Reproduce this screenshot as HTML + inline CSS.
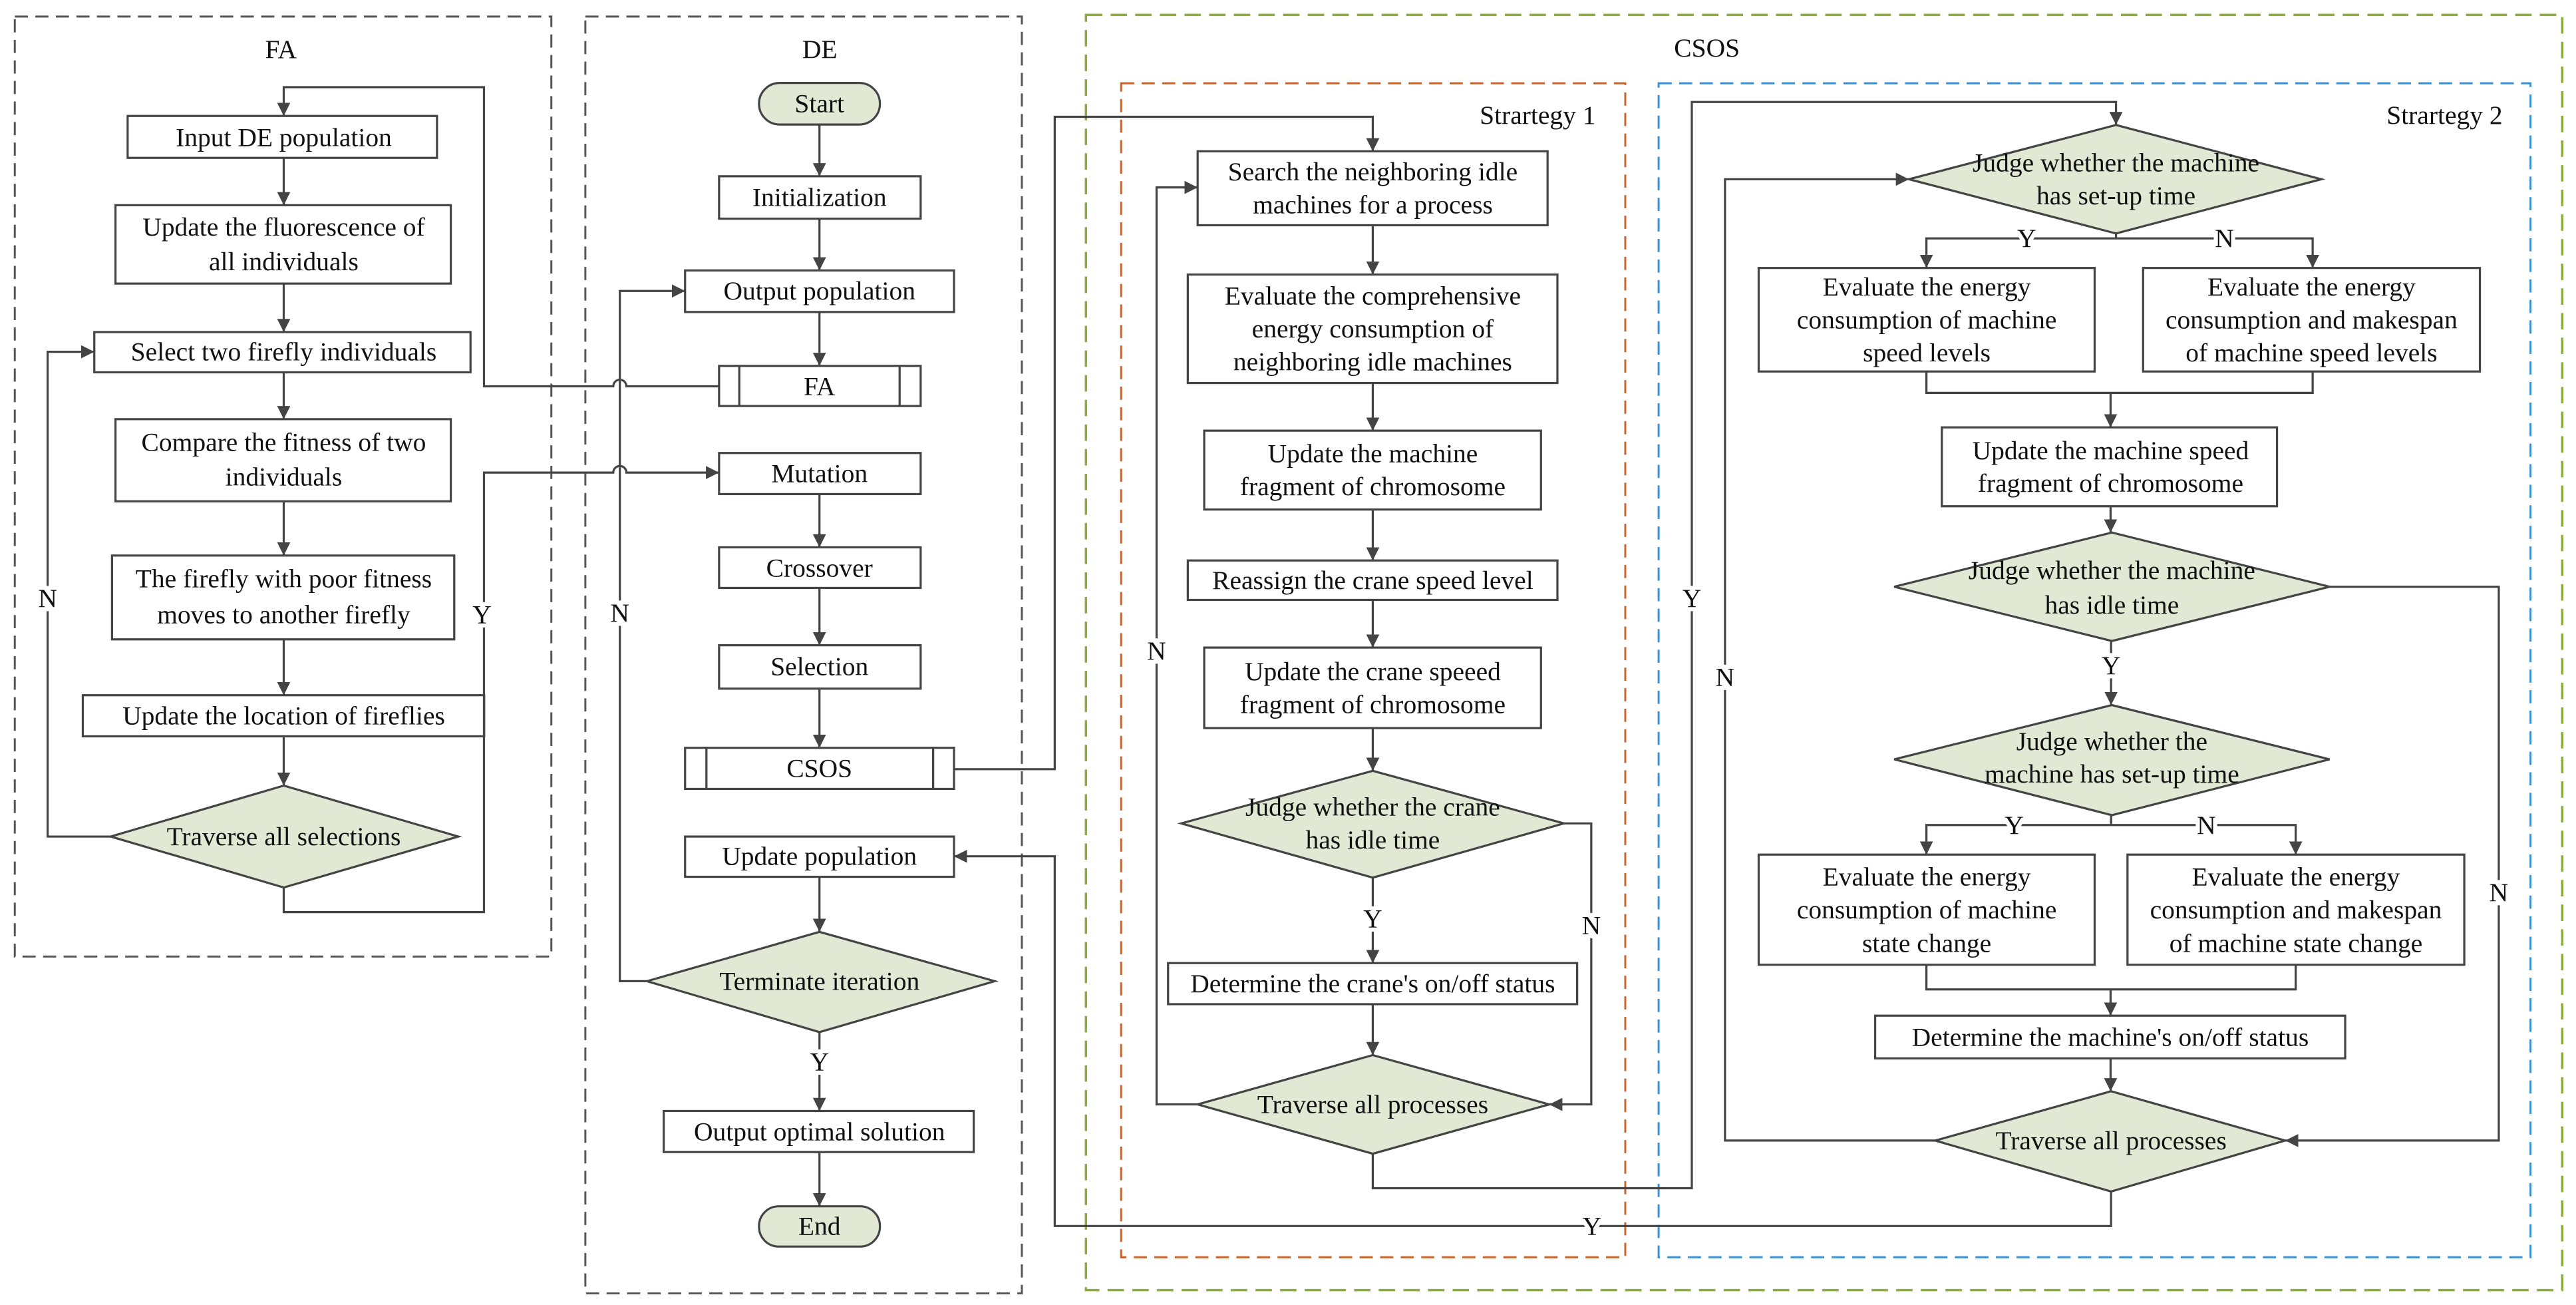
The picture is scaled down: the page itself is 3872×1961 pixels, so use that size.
<!DOCTYPE html>
<html><head><meta charset="utf-8"><style>
html,body{margin:0;padding:0;background:#fff;}
svg{display:block;}
text{font-family:"Liberation Serif",serif;font-size:16px;fill:#111;text-anchor:middle;dominant-baseline:central;}
.lb{paint-order:stroke;stroke:#fff;stroke-width:5px;}
.ln{fill:none;stroke:#444;stroke-width:1.3;}
.bx{fill:#fff;stroke:#444;stroke-width:1.3;}
.dm{fill:#e1e9d4;stroke:#444;stroke-width:1.3;}
</style></head><body>
<svg width="3872" height="1961" viewBox="0 0 1568 794" xmlns="http://www.w3.org/2000/svg">
<defs>
<marker id="a" markerUnits="userSpaceOnUse" markerWidth="10" markerHeight="10" refX="8" refY="4" orient="auto">
<path d="M0,0 L8,4 L0,8 Z" fill="#444"/></marker>
</defs>
<rect width="1568" height="794" fill="#fff"/>
<!-- dashed containers -->
<rect x="9" y="10" width="326.6" height="572" fill="none" stroke="#555" stroke-width="1.2" stroke-dasharray="8,4.5"/>
<rect x="356.3" y="10" width="265.7" height="777" fill="none" stroke="#555" stroke-width="1.2" stroke-dasharray="8,4.5"/>
<rect x="661" y="9" width="898.6" height="776" fill="none" stroke="#8aad3e" stroke-width="1.4" stroke-dasharray="10,5"/>
<rect x="682.4" y="50.6" width="306.9" height="714.4" fill="none" stroke="#c8642c" stroke-width="1.2" stroke-dasharray="8,4.5"/>
<rect x="1009.6" y="50.6" width="530.7" height="714.4" fill="none" stroke="#3a90d0" stroke-width="1.2" stroke-dasharray="8,4.5"/>
<text x="171" y="30">FA</text>
<text x="499" y="30">DE</text>
<text x="1039" y="29">CSOS</text>
<text x="936" y="70">Strartegy 1</text>
<text x="1488" y="70">Strartegy 2</text>

<!-- FA column -->
<rect class="bx" x="77.7" y="70.5" width="188.3" height="25.5"/>
<text x="172.7" y="83.5">Input DE population</text>
<rect class="bx" x="70.3" y="124.8" width="204.1" height="47.7"/>
<text x="172.7" y="138">Update the fluorescence of</text>
<text x="172.7" y="159">all individuals</text>
<rect class="bx" x="57.4" y="202" width="229" height="24.5"/>
<text x="172.7" y="214">Select two firefly individuals</text>
<rect class="bx" x="70.3" y="255" width="204.1" height="50"/>
<text x="172.7" y="269">Compare the fitness of two</text>
<text x="172.7" y="290">individuals</text>
<rect class="bx" x="68.2" y="338" width="208.3" height="51"/>
<text x="172.7" y="352">The firefly with poor fitness</text>
<text x="172.7" y="374">moves to another firefly</text>
<rect class="bx" x="50.4" y="423" width="244.3" height="25"/>
<text x="172.7" y="435.5">Update the location of fireflies</text>
<polygon class="dm" points="67.4,509 172.7,478 279,509 172.7,540"/>
<text x="172.7" y="509">Traverse all selections</text>
<path class="ln" d="M172.7 96 V124.8" marker-end="url(#a)"/>
<path class="ln" d="M172.7 172.5 V202" marker-end="url(#a)"/>
<path class="ln" d="M172.7 226.5 V255" marker-end="url(#a)"/>
<path class="ln" d="M172.7 305 V338" marker-end="url(#a)"/>
<path class="ln" d="M172.7 389 V423" marker-end="url(#a)"/>
<path class="ln" d="M172.7 448 V478" marker-end="url(#a)"/>
<path class="ln" d="M67.4 509 H29 V214 H57.4" marker-end="url(#a)"/>
<text class="lb" x="29" y="364">N</text>
<!-- FA call from DE -->
<path class="ln" d="M437.7 235 H381.3 A4 4 0 0 0 373.3 235 H294.6 V53 H172.7 V70.5" marker-end="url(#a)"/>
<!-- Y back to Mutation -->
<path class="ln" d="M172.7 540 V555 H294.6 V287.5 H373.3 A4 4 0 0 1 381.3 287.5 H437.7" marker-end="url(#a)"/>
<text class="lb" x="293.4" y="374">Y</text>

<!-- DE column -->
<rect x="462" y="50.4" width="73.6" height="25.3" rx="12.6" fill="#e1e9d4" stroke="#444" stroke-width="1.3"/>
<text x="498.8" y="63">Start</text>
<rect class="bx" x="437.7" y="107.2" width="122.7" height="25.8"/>
<text x="498.8" y="120">Initialization</text>
<rect class="bx" x="417" y="164.5" width="163.7" height="25.3"/>
<text x="498.8" y="177">Output  population</text>
<rect class="bx" x="437.7" y="222.6" width="122.7" height="24.4"/>
<path class="ln" d="M450 222.6 V247 M547.6 222.6 V247"/>
<text x="498.8" y="235">FA</text>
<rect class="bx" x="437.7" y="275.6" width="122.7" height="25"/>
<text x="498.8" y="288">Mutation</text>
<rect class="bx" x="437.7" y="333" width="122.7" height="24.7"/>
<text x="498.8" y="345.5">Crossover</text>
<rect class="bx" x="437.7" y="392.6" width="122.7" height="26.4"/>
<text x="498.8" y="405.5">Selection</text>
<rect class="bx" x="417" y="455" width="163.7" height="25"/>
<path class="ln" d="M430 455 V480 M568 455 V480"/>
<text x="498.8" y="467.5">CSOS</text>
<rect class="bx" x="417" y="509" width="163.7" height="24.5"/>
<text x="498.8" y="521">Update population</text>
<polygon class="dm" points="393.8,597 498.8,567 605.5,597 498.8,628"/>
<text x="498.8" y="597">Terminate iteration</text>
<rect class="bx" x="404" y="676" width="188.7" height="25"/>
<text x="498.8" y="688.5">Output optimal solution</text>
<rect x="462" y="734" width="73.6" height="24.5" rx="12" fill="#e1e9d4" stroke="#444" stroke-width="1.3"/>
<text x="498.8" y="746">End</text>
<path class="ln" d="M498.8 75.7 V107.2" marker-end="url(#a)"/>
<path class="ln" d="M498.8 133 V164.5" marker-end="url(#a)"/>
<path class="ln" d="M498.8 189.8 V222.6" marker-end="url(#a)"/>
<path class="ln" d="M498.8 300.6 V333" marker-end="url(#a)"/>
<path class="ln" d="M498.8 357.7 V392.6" marker-end="url(#a)"/>
<path class="ln" d="M498.8 419 V455" marker-end="url(#a)"/>
<path class="ln" d="M498.8 533.5 V567" marker-end="url(#a)"/>
<path class="ln" d="M498.8 628 V676" marker-end="url(#a)"/>
<text class="lb" x="498.8" y="646">Y</text>
<path class="ln" d="M498.8 701 V734" marker-end="url(#a)"/>
<path class="ln" d="M393.8 597 H377.3 V177 H417" marker-end="url(#a)"/>
<text class="lb" x="377.3" y="373">N</text>

<!-- CSOS link to strategy 1 -->
<path class="ln" d="M580.7 468 H642 V71 H835.6 V92" marker-end="url(#a)"/>
<!-- Strategy 1 -->
<rect class="bx" x="729" y="92" width="213" height="45"/>
<text x="835.6" y="104.5">Search the neighboring idle</text>
<text x="835.6" y="124.5">machines for a process</text>
<rect class="bx" x="723" y="167" width="225" height="66"/>
<text x="835.6" y="180">Evaluate the comprehensive</text>
<text x="835.6" y="200">energy consumption of</text>
<text x="835.6" y="220">neighboring idle machines</text>
<rect class="bx" x="733" y="262" width="205" height="48"/>
<text x="835.6" y="276">Update the machine</text>
<text x="835.6" y="296">fragment of chromosome</text>
<rect class="bx" x="723" y="341" width="225" height="24"/>
<text x="835.6" y="353">Reassign the crane speed level</text>
<rect class="bx" x="733" y="394" width="205" height="49"/>
<text x="835.6" y="408.5">Update the crane speeed</text>
<text x="835.6" y="428.5">fragment of chromosome</text>
<polygon class="dm" points="719,501 835.6,469 952,501 835.6,534"/>
<text x="835.6" y="491">Judge whether the crane</text>
<text x="835.6" y="511">has idle time</text>
<rect class="bx" x="711" y="586" width="249" height="25"/>
<text x="835.6" y="598.5">Determine the crane's on/off status</text>
<polygon class="dm" points="729,672 835.6,642 943,672 835.6,702"/>
<text x="835.6" y="672">Traverse all processes</text>
<path class="ln" d="M835.6 137 V167" marker-end="url(#a)"/>
<path class="ln" d="M835.6 233 V262" marker-end="url(#a)"/>
<path class="ln" d="M835.6 310 V341" marker-end="url(#a)"/>
<path class="ln" d="M835.6 365 V394" marker-end="url(#a)"/>
<path class="ln" d="M835.6 443 V469" marker-end="url(#a)"/>
<path class="ln" d="M835.6 534 V586" marker-end="url(#a)"/>
<text class="lb" x="835.6" y="559">Y</text>
<path class="ln" d="M835.6 611 V642" marker-end="url(#a)"/>
<path class="ln" d="M952 501 H968.6 V672 H943" marker-end="url(#a)"/>
<text class="lb" x="968.6" y="563">N</text>
<path class="ln" d="M729 672 H704 V114 H729" marker-end="url(#a)"/>
<text class="lb" x="704" y="396">N</text>
<!-- to strategy 2 -->
<path class="ln" d="M835.6 702 V723 H1029.8 V62 H1288 V76" marker-end="url(#a)"/>
<text class="lb" x="1029.8" y="364">Y</text>

<!-- Strategy 2 -->
<polygon class="dm" points="1162,109 1288,76 1413,109 1288,142"/>
<text x="1288" y="99">Judge whether the machine</text>
<text x="1288" y="119">has set-up time</text>
<path class="ln" d="M1288 142 V145"/>
<path class="ln" d="M1288 145 H1172.6 V163" marker-end="url(#a)"/>
<path class="ln" d="M1288 145 H1407.7 V163" marker-end="url(#a)"/>
<text class="lb" x="1233.6" y="145">Y</text>
<text class="lb" x="1354" y="145">N</text>
<rect class="bx" x="1070.5" y="163" width="204.5" height="63"/>
<text x="1172.8" y="174.5">Evaluate the energy</text>
<text x="1172.8" y="194.5">consumption of machine</text>
<text x="1172.8" y="214.5">speed levels</text>
<rect class="bx" x="1304.5" y="163" width="205" height="63"/>
<text x="1407" y="174.5">Evaluate the energy</text>
<text x="1407" y="194.5">consumption and makespan</text>
<text x="1407" y="214.5">of machine speed levels</text>
<path class="ln" d="M1172.6 226 V239 H1407.7 V226"/>
<path class="ln" d="M1284.7 239 V260" marker-end="url(#a)"/>
<rect class="bx" x="1182" y="260" width="204" height="48"/>
<text x="1284.7" y="274">Update the machine speed</text>
<text x="1284.7" y="294">fragment of chromosome</text>
<path class="ln" d="M1284.7 308 V324" marker-end="url(#a)"/>
<polygon class="dm" points="1153,357 1285.5,324 1418,357 1285.5,390"/>
<text x="1285.5" y="347">Judge whether the machine</text>
<text x="1285.5" y="368">has idle time</text>
<path class="ln" d="M1285 390 V429" marker-end="url(#a)"/>
<text class="lb" x="1285" y="405">Y</text>
<polygon class="dm" points="1153,462 1285.5,429 1418,462 1285.5,496"/>
<text x="1285.5" y="451">Judge whether the</text>
<text x="1285.5" y="471">machine has set-up time</text>
<path class="ln" d="M1285 496 V502"/>
<path class="ln" d="M1285 502 H1172.6 V520" marker-end="url(#a)"/>
<path class="ln" d="M1285 502 H1397.4 V520" marker-end="url(#a)"/>
<text class="lb" x="1226" y="502">Y</text>
<text class="lb" x="1343" y="502">N</text>
<rect class="bx" x="1070.5" y="520" width="204.5" height="67"/>
<text x="1172.8" y="533.5">Evaluate the energy</text>
<text x="1172.8" y="553.5">consumption of machine</text>
<text x="1172.8" y="574">state change</text>
<rect class="bx" x="1295" y="520" width="205" height="67"/>
<text x="1397.5" y="533.5">Evaluate the energy</text>
<text x="1397.5" y="553.5">consumption and makespan</text>
<text x="1397.5" y="574">of machine state change</text>
<path class="ln" d="M1172.6 587 V602 H1397.4 V587"/>
<path class="ln" d="M1284.7 602 V618" marker-end="url(#a)"/>
<rect class="bx" x="1141.4" y="618" width="286.1" height="26"/>
<text x="1284.5" y="631">Determine the machine's on/off status</text>
<path class="ln" d="M1284.7 644 V664" marker-end="url(#a)"/>
<polygon class="dm" points="1178,694 1285,664 1391,694 1285,725"/>
<text x="1285" y="694">Traverse all processes</text>
<path class="ln" d="M1418 357 H1521 V694 H1391" marker-end="url(#a)"/>
<text class="lb" x="1521" y="543">N</text>
<path class="ln" d="M1178 694 H1050 V109 H1162" marker-end="url(#a)"/>
<text class="lb" x="1050" y="412">N</text>
<!-- Y back to Update population -->
<path class="ln" d="M1285 725 V746 H642 V521 H580.7" marker-end="url(#a)"/>
<text class="lb" x="969" y="746">Y</text>
</svg>
</body></html>
